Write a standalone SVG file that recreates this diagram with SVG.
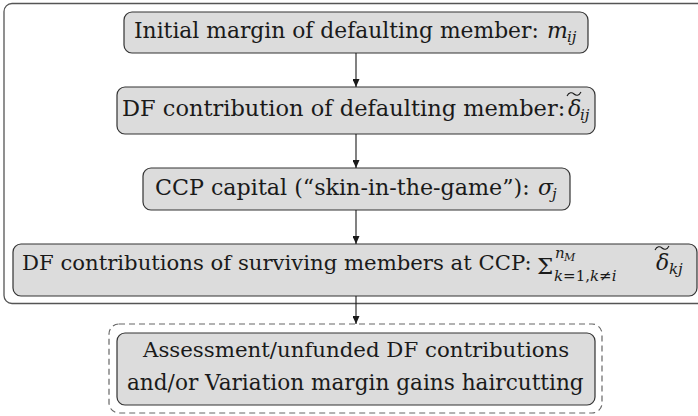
<svg xmlns="http://www.w3.org/2000/svg" width="698" height="416" viewBox="0 0 698 416">
  <style>
    .node { fill: #dcdcdc; stroke: #333; stroke-width: 1.2; }
    .frame { fill: none; stroke: #555; stroke-width: 1.3; }
    .dash { fill: none; stroke: #666; stroke-width: 1.2; stroke-dasharray: 6 4; }
    .t { font-family: 'DejaVu Serif', serif; font-size: 22px; fill: #1a1a1a; }
    .m { font-family: 'DejaVu Serif', serif; font-style: italic; font-size: 22px; fill: #1a1a1a; }
    .s { font-family: 'DejaVu Serif', serif; font-style: italic; font-size: 15px; fill: #1a1a1a; }
    .ss { font-family: 'DejaVu Serif', serif; font-style: italic; font-size: 11px; fill: #1a1a1a; }
    .sr { font-style: normal; }
    .sum { font-family: 'DejaVu Serif', serif; font-size: 23px; fill: #1a1a1a; }
    .tilde { fill: none; stroke: #1a1a1a; stroke-width: 1.1; }
    .conn { stroke: #1a1a1a; stroke-width: 1.1; fill: none; }
  </style>
  <defs>
    <marker id="arr" markerUnits="userSpaceOnUse" markerWidth="8" markerHeight="7" refX="8" refY="3.5" orient="auto">
      <path d="M0,0 L8,3.5 L0,7 Z" fill="#1a1a1a"/>
    </marker>
  </defs>

  <g id="frame-ccp">
    <rect class="frame" x="4" y="3.5" width="730" height="300" rx="8"/>
  </g>
  <g id="frame-dashed">
    <rect class="dash" x="109" y="324" width="493" height="89" rx="10"/>
  </g>

  <g id="node-initial-margin">
    <rect class="node" x="124" y="12" width="464" height="41" rx="8"/>
    <text class="t" x="134" y="38" style="font-size:21.8px">Initial margin of defaulting member:</text>
    <text class="m" x="547" y="38">m</text>
    <text class="s" x="567" y="42">ij</text>
  </g>

  <g id="node-df-defaulting">
    <rect class="node" x="117" y="87" width="478" height="47" rx="8"/>
    <text class="t" x="122" y="116" style="font-size:22.5px">DF contribution of defaulting member:</text>
    <text class="m" x="568" y="116">δ</text>
    <path class="tilde" d="M567,96 C569,92 572,92 574,94 C576,96 579,96 581,92"/>
    <text class="s" x="580" y="120">ij</text>
  </g>

  <g id="node-ccp-capital">
    <rect class="node" x="143" y="168" width="427" height="42" rx="8"/>
    <text class="t" x="155" y="195" style="font-size:22.2px">CCP capital (“skin-in-the-game”):</text>
    <text class="m" x="538" y="195">σ</text>
    <text class="s" x="552" y="199">j</text>
  </g>

  <g id="node-df-surviving">
    <rect class="node" x="13" y="244" width="684" height="52" rx="8"/>
    <text class="t" x="22" y="270" style="font-size:21.2px">DF contributions of surviving members at CCP:</text>
    <text class="sum" x="537" y="274">Σ</text>
    <text class="s" x="555" y="258">n</text>
    <text class="ss" x="564" y="261">M</text>
    <text class="s" x="554" y="281">k<tspan class="sr">=1,</tspan>k<tspan class="sr">≠</tspan>i</text>
    <text class="m" x="656" y="270">δ</text>
    <path class="tilde" d="M655,250 C657,246 660,246 662,248 C664,250 667,250 669,246"/>
    <text class="s" x="669" y="274">kj</text>
  </g>

  <g id="node-assessment">
    <rect class="node" x="117" y="333" width="478" height="72" rx="8"/>
    <text class="t" x="143" y="357" style="font-size:21.3px">Assessment/unfunded DF contributions</text>
    <text class="t" x="127" y="390" style="font-size:21.6px">and/or Variation margin gains haircutting</text>
  </g>

  <g id="connectors">
    <line class="conn" x1="356" y1="53" x2="356" y2="87" marker-end="url(#arr)"/>
    <line class="conn" x1="356" y1="134" x2="356" y2="168" marker-end="url(#arr)"/>
    <line class="conn" x1="356" y1="210" x2="356" y2="244" marker-end="url(#arr)"/>
    <line class="conn" x1="356" y1="296" x2="356" y2="324" marker-end="url(#arr)"/>
  </g>
</svg>
